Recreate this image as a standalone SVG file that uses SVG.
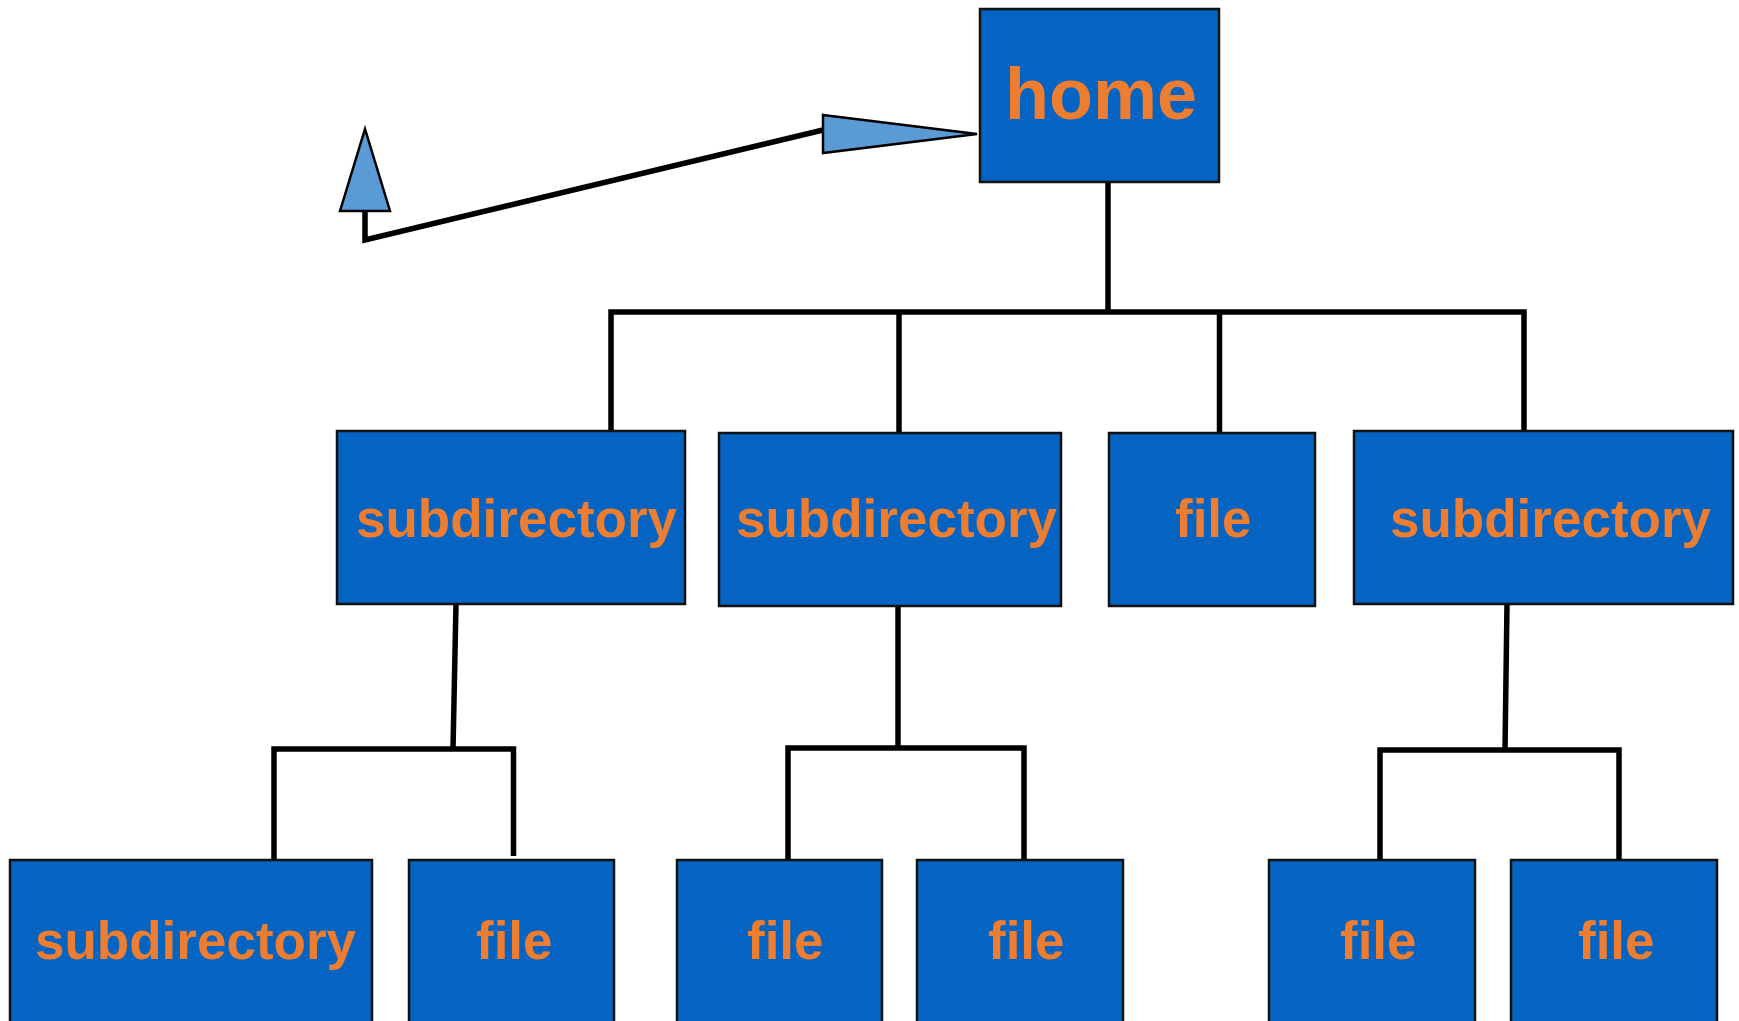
<svg xmlns="http://www.w3.org/2000/svg" width="1739" height="1021" viewBox="0 0 1739 1021">
  <style>
    .box { fill: #0563C1; stroke: #111; stroke-width: 2.5; }
    .lbl { font-family: "Liberation Sans", Arial, sans-serif; font-weight: bold; fill: #ED7D31; font-size: 53px; }
    .big { font-size: 72px; }
    .wire { fill: none; stroke: #000; stroke-width: 5.5; stroke-linecap: butt; stroke-linejoin: miter; }
    .head { fill: #5B9BD5; stroke: #000; stroke-width: 2.5; stroke-linejoin: miter; }
  </style>
  <rect width="1739" height="1021" fill="#fff"/>

  <!-- connectors -->
  <g id="connectors">
    <!-- home to first level -->
    <path class="wire" d="M1108 182 V312"/>
    <path class="wire" d="M611 430 V312 H1524 V430"/>
    <path class="wire" d="M899 312 V432"/>
    <path class="wire" d="M1219.5 312 V432"/>
    <!-- left subdirectory branch -->
    <path class="wire" d="M456 604 L453 749"/>
    <path class="wire" d="M274 860 V749 H513.5 V856"/>
    <!-- middle subdirectory branch -->
    <path class="wire" d="M898 606 V748"/>
    <path class="wire" d="M788 860 V748 H1024 V860"/>
    <!-- right subdirectory branch -->
    <path class="wire" d="M1507 604 L1505 750"/>
    <path class="wire" d="M1380 860 V750 H1619 V860"/>
    <!-- up-link arrows -->
    <path class="wire" d="M365 211 V240 L823 130"/>
    <polygon class="head" points="823,115 977,134 823,153"/>
    <polygon class="head" points="340,211 365,129 390,211"/>
  </g>

  <!-- root -->
  <g id="home">
    <rect class="box" x="980" y="9" width="239" height="173"/>
    <text class="lbl big" x="1005" y="119">home</text>
  </g>

  <!-- first level -->
  <g id="subdir-a">
    <rect class="box" x="337" y="431" width="348" height="173"/>
    <text class="lbl" x="356" y="537">subdirectory</text>
  </g>
  <g id="subdir-b">
    <rect class="box" x="719" y="433" width="342" height="173"/>
    <text class="lbl" x="736" y="537">subdirectory</text>
  </g>
  <g id="file-top">
    <rect class="box" x="1109" y="433" width="206" height="173"/>
    <text class="lbl" x="1175" y="537">file</text>
  </g>
  <g id="subdir-c">
    <rect class="box" x="1354" y="431" width="379" height="173"/>
    <text class="lbl" x="1390" y="537">subdirectory</text>
  </g>

  <!-- second level -->
  <g id="subdir-a1">
    <rect class="box" x="10" y="860" width="362" height="180"/>
    <text class="lbl" x="35" y="959">subdirectory</text>
  </g>
  <g id="file-a2">
    <rect class="box" x="409" y="860" width="205" height="180"/>
    <text class="lbl" x="476" y="959">file</text>
  </g>
  <g id="file-b1">
    <rect class="box" x="677" y="860" width="205" height="180"/>
    <text class="lbl" x="747" y="959">file</text>
  </g>
  <g id="file-b2">
    <rect class="box" x="917" y="860" width="206" height="180"/>
    <text class="lbl" x="988" y="959">file</text>
  </g>
  <g id="file-c1">
    <rect class="box" x="1269" y="860" width="206" height="180"/>
    <text class="lbl" x="1340" y="959">file</text>
  </g>
  <g id="file-c2">
    <rect class="box" x="1511" y="860" width="206" height="180"/>
    <text class="lbl" x="1578" y="959">file</text>
  </g>
</svg>
